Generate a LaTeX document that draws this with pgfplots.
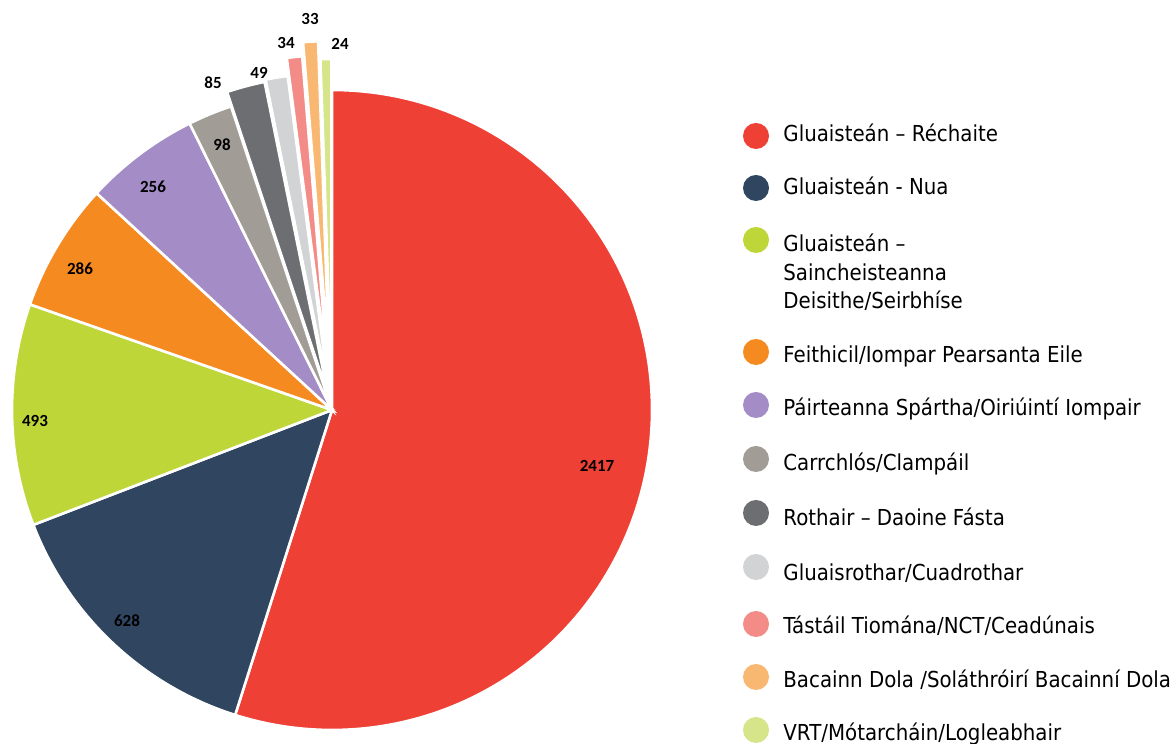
\documentclass[border=0pt]{standalone}
\usepackage{pgfplots}
\pgfplotsset{compat=1.18}
\usepackage{pgfplotstable}
\usepackage{fontspec}
\setmainfont{DejaVu Sans}[FakeStretch=0.9]
\newfontfamily\lblfont{Carlito}
\usetikzlibrary{calc}

\definecolor{c0}{RGB}{239,64,53}
\definecolor{c1}{RGB}{47,69,96}
\definecolor{c2}{RGB}{190,214,56}
\definecolor{c3}{RGB}{245,138,32}
\definecolor{c4}{RGB}{164,141,198}
\definecolor{c5}{RGB}{161,157,150}
\definecolor{c6}{RGB}{108,110,113}
\definecolor{c7}{RGB}{209,211,212}
\definecolor{c8}{RGB}{243,139,134}
\definecolor{c9}{RGB}{249,184,114}
\definecolor{c10}{RGB}{214,228,138}

% value, explode (px), label position (px), colour
\pgfplotstableread{
val  d  lx  ly  col
2417 0  597 278 c0
628  0  127 123 c1
493  0  35  323 c2
286  0  80  475 c3
256  0  153 557 c4
98   0  222 599 c5
85   15 213 661 c6
49   17 259 671 c7
34   35 286 701 c8
33   49 310 725 c9
24   31 340 700 c10
}\piedata

\begin{document}
\begin{tikzpicture}
\begin{axis}[x=0.5pt,y=0.5pt,xmin=0,xmax=1174,ymin=0,ymax=744,
  hide axis,clip=false,scale only axis]
\coordinate (ll) at (axis cs:0,0);
\coordinate (ur) at (axis cs:1174,744);
\pgfplotsextra{
  \gdef\total{0}
  \foreach \i in {0,...,10}{
    \pgfplotstablegetelem{\i}{val}\of\piedata
    \pgfmathsetmacro\tmp{\total+\pgfplotsretval}
    \xdef\total{\tmp}
  }
  \gdef\curang{90}
  \foreach \i in {0,...,10}{
    \pgfplotstablegetelem{\i}{val}\of\piedata \edef\v{\pgfplotsretval}
    \pgfplotstablegetelem{\i}{d}\of\piedata \edef\dd{\pgfplotsretval}
    \pgfplotstablegetelem{\i}{lx}\of\piedata \edef\lx{\pgfplotsretval}
    \pgfplotstablegetelem{\i}{ly}\of\piedata \edef\ly{\pgfplotsretval}
    \pgfplotstablegetelem{\i}{col}\of\piedata \edef\cc{\pgfplotsretval}
    \pgfmathsetmacro\sweep{\v/\total*360}
    \pgfmathsetmacro\endang{\curang-\sweep}
    \pgfmathsetmacro\midang{\curang-\sweep/2}
    \pgfmathsetmacro\off{\dd*0.5}
    \fill[fill=\cc, draw=white, line width=1.3pt]
      ($(axis cs:332,334)+(\midang:\off pt)$) -- ++(\curang:160pt)
      arc[start angle=\curang, end angle=\endang, radius=160pt] -- cycle;
    \node[font=\lblfont\bfseries\fontsize{8.5}{10}\selectfont, text=black]
      at (axis cs:\lx,\ly) {\v};
    \xdef\curang{\endang}
  }
}
% legend
\foreach \y/\c in {608/c0,556/c1,504/c2,392/c3,339/c4,285/c5,231/c6,177/c7,120/c8,67/c9,14/c10}{
  \edef\tmp{\noexpand\fill[fill=\c] (axis cs:756,\y) circle[radius=6.5pt];}\tmp
}
\begin{scope}[every node/.style={anchor=base west,inner sep=0pt,font=\fontsize{11}{13}\selectfont}]
\node at (axis cs:783,602) {Gluaisteán – Réchaite};
\node at (axis cs:783,549) {Gluaisteán - Nua};
\node at (axis cs:783,492) {Gluaisteán –};
\node at (axis cs:783,463) {Saincheisteanna};
\node at (axis cs:783,435) {Deisithe/Seirbhíse};
\node at (axis cs:783,381) {Feithicil/Iompar Pearsanta Eile};
\node at (axis cs:783,328) {Páirteanna Spártha/Oiriúintí Iompair};
\node at (axis cs:783,273) {Carrchlós/Clampáil};
\node at (axis cs:783,218) {Rothair – Daoine Fásta};
\node at (axis cs:783,163) {Gluaisrothar/Cuadrothar};
\node at (axis cs:783,110) {Tástáil Tiomána/NCT/Ceadúnais};
\node at (axis cs:783,56) {Bacainn Dola /Soláthróirí Bacainní Dola};
\node at (axis cs:783,3) {VRT/Mótarcháin/Logleabhair};
\end{scope}
\end{axis}
\pgfresetboundingbox
\path (ll) rectangle (ur);
\end{tikzpicture}
\end{document}
